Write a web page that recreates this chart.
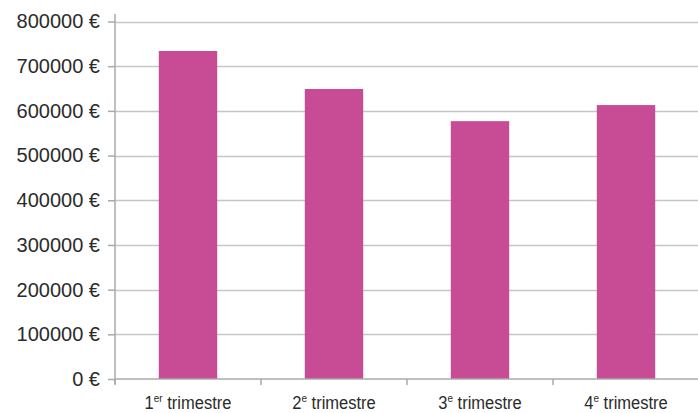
<!DOCTYPE html>
<html>
<head>
<meta charset="utf-8">
<script src="https://cdn.jsdelivr.net/npm/d3@7"></script>
<style>
  body { margin: 0; background: #fff; }
  svg text { font-family: "Liberation Sans", Arial, sans-serif; fill: #2b2b2b; }
</style>
</head>
<body>
<div id="chart-area"></div>
<script>
const quarters = ['1', '2', '3', '4'];
const suffixes = ['er', 'e', 'e', 'e'];
const revenue = [734000, 649000, 577000, 613000];
const yTicks = [0, 100000, 200000, 300000, 400000, 500000, 600000, 700000, 800000];

let width = 698;
let height = 413;
let padding = { left: 115, right: 0, top: 21.5, bottom: 34 };
let barColor = '#c84b95';

let xScale = d3
  .scaleBand()
  .domain(quarters)
  .range([padding.left, padding.left + 4 * 146])
  .paddingInner(0.6)
  .paddingOuter(0.3);

let yScale = d3
  .scaleLinear()
  .domain([0, 800000])
  .range([height - padding.bottom, padding.top]);

let chart = d3
  .select('#chart-area')
  .append('svg')
  .attr('width', width)
  .attr('height', height);

//gridlines
chart
  .append('g')
  .selectAll('line')
  .data(yTicks.slice(1))
  .enter()
  .append('line')
  .attr('x1', padding.left)
  .attr('x2', width)
  .attr('y1', (d) => Math.round(yScale(d)) + 0.5)
  .attr('y2', (d) => Math.round(yScale(d)) + 0.5)
  .attr('stroke', '#c6c6c6')
  .attr('stroke-width', 1.5);

//bars
chart
  .append('g')
  .selectAll('rect')
  .data(quarters)
  .enter()
  .append('rect')
  .attr('x', (d) => xScale(d))
  .attr('width', xScale.bandwidth())
  .attr('y', (d, i) => yScale(revenue[i]))
  .attr('height', (d, i) => yScale(0) - yScale(revenue[i]))
  .attr('fill', barColor);

//y axis
let yAxis = d3
  .axisLeft(yScale)
  .tickValues(yTicks)
  .tickSize(7)
  .tickPadding(8)
  .tickFormat((d) => `${d} €`);
let yg = chart
  .append('g')
  .attr('transform', `translate(${padding.left}, 0)`)
  .call(yAxis);
yg.selectAll('text').attr('font-size', '20px').attr('font-family', null).attr('fill', null);
yg.selectAll('line').attr('stroke', '#aaa').attr('stroke-width', 1.5);
yg.select('.domain').remove();
chart
  .append('line')
  .attr('x1', padding.left)
  .attr('x2', padding.left)
  .attr('y1', 14)
  .attr('y2', yScale(0) + 5)
  .attr('stroke', '#aaa')
  .attr('stroke-width', 1.5);

//x axis
let bandStep = xScale.step();
let tickPositions = [0, 1, 2, 3].map((i) => xScale(quarters[i]) - xScale.paddingOuter() * bandStep);
chart
  .append('line')
  .attr('x1', padding.left)
  .attr('x2', width)
  .attr('y1', yScale(0))
  .attr('y2', yScale(0))
  .attr('stroke', '#aaa')
  .attr('stroke-width', 1.5);
chart
  .append('g')
  .selectAll('line')
  .data(tickPositions)
  .enter()
  .append('line')
  .attr('x1', (d) => d)
  .attr('x2', (d) => d)
  .attr('y1', yScale(0))
  .attr('y2', yScale(0) + 6)
  .attr('stroke', '#aaa')
  .attr('stroke-width', 1.5);

//category labels, squeezed horizontally like a condensed face
let labels = chart
  .append('g')
  .selectAll('text')
  .data(quarters)
  .enter()
  .append('text')
  .attr('transform', (d) => `translate(${xScale(d) + xScale.bandwidth() / 2}, 408.5) scale(0.87, 1)`)
  .attr('text-anchor', 'middle')
  .attr('font-size', '19px');
labels.append('tspan').text((d) => d);
labels
  .append('tspan')
  .attr('font-size', '11.5px')
  .attr('dy', -7)
  .text((d, i) => suffixes[i]);
labels
  .append('tspan')
  .attr('dy', 7)
  .text(' trimestre');
</script>
</body>
</html>
